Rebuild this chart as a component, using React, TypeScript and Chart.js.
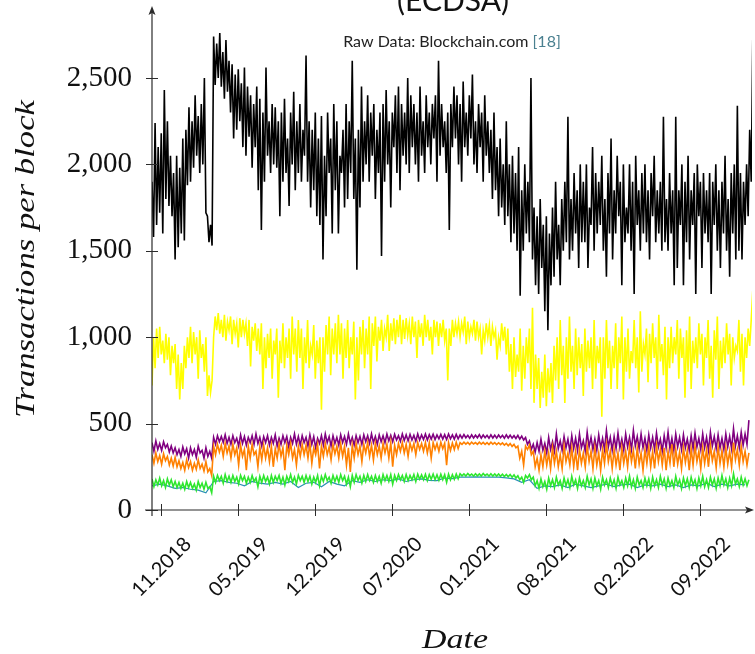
import React, { useEffect, useRef } from "react";
import { Chart, registerables } from "chart.js";

Chart.register(...registerables);

// Days relative to the first labelled tick (11.2018)
const seriesStartDay = -23;
const denseStepDays = 4;
const midStepDays = 5;
const tealStepDays = 20;

const xTickDays = [0, 200, 400, 600, 800, 1000, 1200, 1400];
const xTickLabels = ["11.2018", "05.2019", "12.2019", "07.2020", "01.2021", "08.2021", "02.2022", "09.2022"];
const yTickValues = [0, 500, 1000, 1500, 2000, 2500];

const blackValues = [
  1900, 1580, 2240, 1650, 2100, 1720, 2180, 1600, 2430, 1800, 2250, 1760, 2050, 1700, 1950, 1450, 2050, 1520, 1980, 1600,
  2150, 1560, 2200, 1880, 2330, 1900, 2250, 1980, 2400, 2050, 2280, 1950, 2350, 2000, 2500, 1720, 1700, 1550, 1650, 1530,
  2740, 2460, 2700, 2500, 2760, 2450, 2650, 2380, 2720, 2420, 2600, 2300, 2580, 2150, 2520, 2200, 2550, 2250, 2470, 2100,
  2560, 2050, 2450, 2160, 2400, 1980, 2350, 2100, 2450, 1850, 2380, 1620, 2300, 1900, 2560, 2050, 2250, 1950, 2350, 2000,
  2330, 1980, 2250, 1700, 2300, 1900, 2380, 1950, 2150, 1760, 2300, 2000, 2420, 1850, 2250, 1950, 2350, 1900, 2200, 2050,
  2630, 1900, 2250, 1750, 2200, 1850, 2300, 1700, 2150, 1650, 2280, 1450, 2050, 1700, 2300, 1950, 2150, 1600, 2350, 1850,
  2250, 1600, 2050, 1950, 2200, 1750, 2350, 1800, 2250, 1950, 2600, 1800, 2150, 1390, 2200, 1750, 2450, 1900, 2250, 2000,
  2400, 1900, 2300, 2050, 2350, 1800, 2200, 1950, 2300, 1470, 2350, 1900, 2430, 2000, 2250, 1750, 2300, 2100, 2400, 1950,
  2450, 1850, 2350, 2050, 2300, 2000, 2500, 1950, 2400, 2100, 2350, 2000, 2300, 1900, 2450, 2050, 2250, 1950, 2400, 2100,
  2300, 2000, 2350, 2150, 2400, 1900, 2600, 2050, 2350, 2100, 2250, 1950, 2300, 1620, 2350, 2100, 2450, 2150, 2400, 2000,
  2350, 1900, 2480, 2100, 2300, 2050, 2400, 2150, 2520, 2000, 2250, 1950, 2350, 2100, 2300, 1900, 2400, 2050, 2250, 1950,
  2200, 1800, 2300, 1850, 2100, 1700, 2150, 1750, 2000, 1650, 2250, 1700, 2000, 1550, 2050, 1600, 1950, 1500, 2100, 1240,
  1850, 1500, 2000, 1600, 1900, 1550, 2500, 1450, 1750, 1300, 1700, 1250, 1800, 1400, 1650, 1150, 1700, 1040, 1600, 1300,
  1750, 1350, 1900, 1450, 1650, 1300, 1800, 1500, 1900, 1550, 2275, 1450, 1800, 1500, 1950, 1600, 1850, 1400, 2000, 1550,
  1900, 1550, 2000, 1400, 1750, 1650, 2100, 1500, 1950, 1600, 1900, 1650, 2050, 1500, 1800, 1350, 1950, 1600, 2150, 1450,
  1850, 1600, 2050, 1700, 1900, 1300, 2000, 1550, 1750, 1600, 2000, 1500, 1900, 1250, 2050, 1650, 1850, 1500, 1950, 1600,
  2000, 1550, 1850, 1450, 1950, 1700, 2050, 1550, 1850, 1600, 1900, 1500, 2275, 1550, 1800, 1500, 1950, 1600, 1850, 1300,
  2275, 1400, 1850, 1650, 2000, 1300, 1900, 1550, 2050, 1450, 1850, 1650, 1950, 1250, 2000, 1700, 1900, 1400, 1950, 1600,
  1850, 1550, 1950, 1250, 1900, 1650, 2000, 1500, 1850, 1400, 1900, 1600, 2050, 1500, 1800, 1350, 1950, 1600, 2000, 1450,
  2340, 1500, 1950, 1450, 1900, 1650, 2000, 1700, 2200, 1900, 2720,
];

const yellowValues = [
  720, 1000, 820, 1050, 880, 1060, 900, 980, 850, 1020, 870, 1000, 780, 950, 850, 960, 700, 900, 640, 850,
  700, 950, 820, 1000, 880, 1060, 850, 1030, 900, 1000, 760, 1040, 880, 960, 800, 1000, 660, 780, 680, 750,
  1000, 1120, 1040, 1140, 1020, 1100, 1000, 1130, 980, 1090, 1040, 1120, 960, 1100, 1020, 1080, 940, 1110, 1000, 1100,
  1020, 1080, 950, 1100, 830, 1060, 980, 1080, 920, 1050, 900, 1080, 700, 1000, 820, 1020, 880, 1050, 760, 980,
  900, 1050, 650, 980, 850, 1080, 820, 1000, 880, 1050, 760, 1120, 900, 1050, 800, 1100, 880, 1050, 700, 1000,
  850, 1100, 820, 950, 900, 1070, 760, 980, 850, 1000, 580, 1000, 800, 1070, 900, 1120, 780, 1050, 900, 1080,
  850, 1130, 900, 1080, 760, 1050, 880, 1100, 820, 1000, 900, 1090, 640, 1000, 750, 1060, 900, 1100, 820, 1050,
  900, 1120, 700, 1080, 950, 1120, 860, 1060, 980, 1100, 920, 1050, 1000, 1130, 920, 1080, 980, 1110, 960, 1100,
  1000, 1130, 960, 1100, 990, 1110, 1010, 1080, 960, 1120, 1000, 1090, 880, 1100, 1000, 1080, 950, 1130, 1000, 1100,
  980, 1060, 900, 1100, 1000, 1090, 950, 1080, 1000, 1100, 980, 1050, 750, 1050, 950, 1100, 1000, 1080, 1020, 1090,
  1000, 1080, 1030, 1120, 960, 1090, 1000, 1060, 1020, 1100, 980, 1090, 1000, 1050, 900, 1040, 980, 1080, 1000, 1070,
  950, 1060, 1000, 1040, 870, 1000, 950, 1080, 980, 1060, 900, 1050, 800, 960, 700, 1000, 770, 900, 800, 1050,
  690, 950, 760, 1000, 850, 1050, 700, 1170, 620, 900, 700, 880, 590, 800, 650, 900, 600, 820, 680, 850,
  620, 950, 750, 1000, 700, 1100, 780, 950, 620, 1000, 760, 1120, 800, 950, 700, 1050, 780, 1000, 820, 960,
  660, 1050, 800, 980, 820, 1000, 700, 1100, 760, 950, 850, 1000, 540, 1000, 760, 1100, 820, 980, 700, 950,
  820, 1080, 700, 1000, 850, 1120, 640, 1000, 800, 1050, 760, 920, 850, 1100, 820, 1000, 680, 1150, 800, 960,
  900, 1050, 740, 1020, 850, 1080, 880, 1000, 700, 1130, 860, 960, 780, 1060, 640, 1000, 820, 1060, 850, 1000,
  900, 1100, 760, 1050, 880, 1000, 650, 1040, 800, 1120, 700, 980, 850, 1000, 820, 1080, 900, 1020, 720, 1000,
  880, 1100, 760, 950, 650, 1040, 870, 1120, 700, 980, 820, 1000, 850, 1080, 900, 1020, 720, 1000, 880, 950,
  920, 1100, 800, 1020, 720, 1000, 880, 1050, 950, 1100, 1270,
];

const purpleValues = [
  390, 340, 400, 350, 385, 345, 395, 360, 380, 335, 370, 330, 360, 320, 350, 310, 365, 325, 355, 300,
  360, 320, 350, 305, 370, 330, 345, 300, 360, 310, 340, 300, 420, 380, 430, 395, 425, 390, 435, 385,
  420, 380, 430, 390, 415, 370, 435, 385, 425, 375, 420, 390, 430, 380, 440, 385, 420, 370, 425, 390,
  430, 375, 420, 385, 435, 370, 415, 380, 430, 390, 425, 365, 420, 385, 440, 380, 425, 375, 430, 390,
  420, 370, 435, 380, 425, 360, 415, 385, 430, 375, 440, 390, 425, 370, 430, 385, 420, 375, 435, 390,
  425, 380, 440, 385, 420, 375, 430, 390, 425, 380, 435, 395, 430, 385, 440, 390, 425, 380, 435, 395,
  430, 390, 440, 400, 432, 395, 438, 405, 430, 398, 440, 402, 435, 400, 438, 405, 432, 398, 440, 405,
  435, 408, 440, 405, 436, 410, 438, 408, 434, 412, 438, 410, 436, 408, 440, 412, 435, 410, 438, 412,
  434, 416, 436, 418, 432, 415, 435, 417, 433, 418, 436, 416, 434, 418, 432, 415, 435, 417, 433, 416,
  434, 418, 432, 415, 435, 417, 433, 416, 430, 414, 432, 410, 428, 405, 420, 380, 400, 350, 380, 335,
  390, 340, 410, 345, 385, 330, 420, 350, 395, 340, 440, 355, 400, 345, 425, 360, 410, 340, 430, 355,
  415, 345, 440, 360, 400, 340, 450, 365, 420, 350, 410, 345, 435, 360, 415, 350, 460, 365, 420, 345,
  425, 355, 445, 360, 410, 345, 440, 365, 420, 350, 460, 370, 425, 355, 440, 360, 415, 345, 435, 360,
  420, 350, 445, 365, 410, 340, 430, 360, 450, 355, 415, 345, 440, 365, 420, 350, 435, 360, 410, 345,
  430, 355, 445, 365, 415, 350, 440, 360, 420, 345, 450, 370, 425, 355, 435, 360, 415, 350, 440, 365,
  425, 355, 470, 370, 430, 360, 450, 375, 440, 380, 520,
];

const orangeValues = [
  320, 270, 330, 280, 315, 265, 325, 285, 310, 260, 300, 255, 305, 250, 285, 240, 275, 230, 290, 245,
  280, 230, 270, 235, 290, 240, 265, 225, 280, 220, 240, 200, 370, 320, 380, 335, 375, 310, 385, 330,
  370, 300, 380, 320, 360, 260, 375, 310, 350, 230, 370, 300, 380, 320, 340, 250, 365, 290, 375, 300,
  360, 280, 370, 250, 355, 300, 380, 310, 360, 230, 375, 320, 385, 300, 350, 260, 370, 310, 380, 320,
  375, 300, 385, 270, 360, 320, 380, 240, 370, 310, 385, 320, 365, 290, 380, 325, 370, 300, 385, 310,
  370, 260, 360, 220, 375, 300, 385, 320, 370, 280, 380, 330, 390, 310, 375, 290, 385, 320, 370, 300,
  385, 330, 380, 300, 390, 250, 375, 320, 385, 340, 390, 330, 380, 310, 388, 345, 385, 320, 390, 350,
  385, 340, 390, 330, 388, 300, 390, 350, 385, 340, 392, 355, 386, 260, 390, 345, 388, 350, 392, 355,
  390, 380, 392, 381, 391, 379, 393, 382, 390, 380, 392, 381, 391, 380, 390, 379, 392, 381, 390, 378,
  389, 378, 388, 376, 386, 372, 384, 368, 380, 360, 370, 300, 340, 260, 370, 350, 375, 320, 340, 250,
  300, 230, 320, 250, 340, 260, 330, 240, 360, 270, 340, 250, 320, 240, 370, 280, 330, 260, 360, 250,
  340, 230, 350, 270, 330, 250, 370, 280, 340, 240, 360, 260, 330, 230, 350, 270, 380, 280, 340, 240,
  350, 260, 330, 230, 360, 270, 340, 250, 370, 280, 345, 240, 360, 265, 330, 230, 350, 270, 365, 250,
  340, 240, 370, 280, 350, 260, 360, 230, 340, 270, 380, 250, 350, 265, 335, 240, 360, 275, 345, 230,
  355, 260, 370, 280, 340, 240, 360, 270, 350, 250, 375, 285, 340, 245, 365, 270, 345, 250, 360, 265,
  340, 250, 390, 290, 350, 260, 370, 280, 340, 260, 330,
];

const greenValues = [
  180, 135, 175, 145, 185, 140, 170, 130, 180, 145, 175, 135, 165, 130, 160, 125, 155, 120, 165, 130,
  160, 125, 150, 115, 165, 130, 155, 120, 160, 125, 135, 100, 195, 160, 200, 170, 195, 155, 205, 165,
  195, 160, 200, 165, 190, 150, 200, 170, 195, 155, 190, 160, 200, 165, 185, 135, 195, 160, 200, 165,
  190, 150, 200, 160, 195, 170, 200, 155, 190, 145, 195, 165, 205, 160, 190, 150, 200, 170, 195, 160,
  200, 165, 195, 150, 190, 160, 200, 140, 195, 165, 205, 170, 190, 155, 200, 165, 195, 160, 205, 170,
  195, 150, 190, 135, 200, 160, 205, 170, 195, 155, 200, 165, 205, 170, 195, 160, 200, 165, 195, 155,
  205, 170, 200, 165, 205, 150, 200, 170, 205, 175, 200, 165, 205, 170, 200, 175, 205, 165, 208, 178,
  203, 175, 207, 170, 205, 178, 208, 175, 204, 172, 207, 176, 205, 160, 208, 175, 205, 178, 208, 180,
  210, 198, 209, 197, 211, 199, 208, 196, 210, 198, 209, 197, 211, 199, 208, 196, 210, 197, 209, 196,
  208, 195, 207, 194, 206, 192, 205, 190, 203, 185, 198, 175, 190, 160, 200, 185, 205, 175, 190, 140,
  170, 125, 180, 135, 165, 120, 185, 140, 175, 130, 190, 145, 170, 125, 185, 140, 175, 130, 195, 145,
  175, 125, 185, 140, 170, 130, 195, 145, 180, 125, 185, 140, 170, 120, 190, 145, 175, 130, 185, 140,
  175, 125, 190, 145, 170, 130, 185, 140, 195, 135, 175, 125, 190, 145, 170, 130, 185, 140, 180, 125,
  190, 140, 175, 130, 195, 145, 180, 125, 185, 140, 170, 130, 195, 145, 175, 125, 185, 140, 180, 130,
  190, 145, 175, 125, 185, 140, 195, 135, 175, 130, 190, 145, 180, 125, 185, 140, 200, 145, 180, 130,
  185, 140, 210, 150, 180, 135, 190, 145, 180, 140, 175,
];

const tealValues = [
  140, 150, 140, 125, 130, 120, 115, 100, 165, 170,
  160, 155, 140, 165, 155, 150, 160, 150, 165, 130,
  155, 160, 135, 165, 150, 140, 170, 160, 175, 165,
  175, 170, 180, 165, 175, 180, 172, 170, 185, 182,
  190, 190, 192, 190, 191, 190, 186, 180, 160, 175,
  125, 140, 135, 145, 130, 150, 140, 130, 140, 150,
  135, 145, 150, 130, 145, 140, 150, 135, 145, 130,
  145, 140, 155, 135, 150, 140, 150, 145,
];

function toPoints(values: number[], step: number) {
  return values.map((v, i) => ({ x: seriesStartDay + i * step, y: v }));
}

const decorPlugin = {
  id: "decor",
  afterDraw(chart: any) {
    const ctx: CanvasRenderingContext2D = chart.ctx;
    const xs = chart.scales.x;
    const ys = chart.scales.y;
    const { left, right, top, bottom } = chart.chartArea;
    ctx.save();
    ctx.strokeStyle = "#2b2b2b";
    ctx.fillStyle = "#2b2b2b";
    ctx.lineWidth = 1.2;

    // y axis line + arrow
    ctx.beginPath();
    ctx.moveTo(left, bottom + 6);
    ctx.lineTo(left, top + 1);
    ctx.stroke();
    ctx.beginPath();
    ctx.moveTo(left, top - 2);
    ctx.lineTo(left - 3.5, top + 7);
    ctx.lineTo(left, top + 5);
    ctx.lineTo(left + 3.5, top + 7);
    ctx.closePath();
    ctx.fill();

    // x axis line + arrow
    ctx.beginPath();
    ctx.moveTo(left - 7, bottom);
    ctx.lineTo(right - 1, bottom);
    ctx.stroke();
    ctx.beginPath();
    ctx.moveTo(right + 2, bottom);
    ctx.lineTo(right - 7, bottom - 3.5);
    ctx.lineTo(right - 5, bottom);
    ctx.lineTo(right - 7, bottom + 3.5);
    ctx.closePath();
    ctx.fill();

    // y ticks
    ctx.lineWidth = 1;
    for (const t of ys.ticks) {
      const y = Math.round(ys.getPixelForValue(t.value)) + 0.5;
      ctx.beginPath();
      ctx.moveTo(left - 6, y);
      ctx.lineTo(left + 6, y);
      ctx.stroke();
    }
    // x ticks + labels
    ctx.font = "20px Lato";
    ctx.fillStyle = "#111";
    ctx.textAlign = "center";
    ctx.textBaseline = "middle";
    xs.ticks.forEach((t: any, i: number) => {
      const x = Math.round(xs.getPixelForValue(t.value)) + 0.5;
      ctx.beginPath();
      ctx.moveTo(x, bottom - 6);
      ctx.lineTo(x, bottom + 6);
      ctx.stroke();
      ctx.save();
      ctx.translate(x, bottom + 57);
      ctx.rotate(-Math.PI / 4);
      ctx.fillText(xTickLabels[i], 0, 0);
      ctx.restore();
    });

    const mid = (left + right) / 2;
    // title (clipped at top)
    ctx.fillStyle = "#111";
    ctx.font = "30px Lato";
    ctx.textAlign = "center";
    ctx.textBaseline = "alphabetic";
    ctx.fillText("(ECDSA)", mid + 1, 11);

    // subtitle
    ctx.font = "16px Lato";
    const partA = "Raw Data: Blockchain.com ";
    const partB = "[18]";
    const wa = ctx.measureText(partA).width;
    const wb = ctx.measureText(partB).width;
    const sx = mid - (wa + wb) / 2;
    ctx.textAlign = "left";
    ctx.fillStyle = "#222";
    ctx.fillText(partA, sx, 47);
    ctx.fillStyle = "#4a8090";
    ctx.fillText(partB, sx + wa, 47);

    // y axis title
    ctx.fillStyle = "#111";
    ctx.font = "italic 28px 'Liberation Serif'";
    ctx.textAlign = "center";
    ctx.textBaseline = "middle";
    const ylab = "Transactions per block";
    const yw = ctx.measureText(ylab).width;
    ctx.save();
    ctx.translate(27, 259);
    ctx.rotate(-Math.PI / 2);
    ctx.scale(318 / yw, 1);
    ctx.fillText(ylab, 0, 0);
    ctx.restore();

    // x axis title
    const xlab = "Date";
    const xw = ctx.measureText(xlab).width;
    ctx.save();
    ctx.translate(455, 641);
    ctx.scale(66 / xw, 1);
    ctx.fillText(xlab, 0, 0);
    ctx.restore();

    ctx.restore();
  },
};

export default function App() {
  const canvasRef = useRef<HTMLCanvasElement | null>(null);

  useEffect(() => {
    if (!canvasRef.current) return;
    const chart = new Chart(canvasRef.current, {
      type: "line",
      data: {
        datasets: [
          { label: "black", data: toPoints(blackValues, denseStepDays), borderColor: "#000000", borderWidth: 1.6, order: 1 },
          { label: "yellow", data: toPoints(yellowValues, denseStepDays), borderColor: "#ffff00", borderWidth: 1.6, order: 2 },
          { label: "green", data: toPoints(greenValues, midStepDays), borderColor: "#2ee62e", borderWidth: 1.6, order: 3 },
          { label: "teal", data: toPoints(tealValues, tealStepDays), borderColor: "#2a8fb5", borderWidth: 1.2, order: 4 },
          { label: "orange", data: toPoints(orangeValues, midStepDays), borderColor: "#ff8000", borderWidth: 1.6, order: 5 },
          { label: "purple", data: toPoints(purpleValues, midStepDays), borderColor: "#800080", borderWidth: 1.6, order: 6 },
        ],
      },
      options: {
        responsive: false,
        devicePixelRatio: 1,
        animation: false,
        layout: { padding: { top: 8, right: 3, left: 0, bottom: 0 } },
        elements: {
          point: { radius: 0 },
          line: { tension: 0, fill: false },
        },
        plugins: {
          legend: { display: false },
          tooltip: { enabled: false },
          title: { display: false },
        },
        scales: {
          x: {
            type: "linear",
            min: -23,
            max: 1535,
            grid: { display: false, drawTicks: false },
            border: { display: false },
            ticks: { display: false, includeBounds: false },
            afterBuildTicks: (scale: any) => {
              scale.ticks = xTickDays.map((v) => ({ value: v }));
            },
            afterFit: (scale: any) => {
              scale.height = 144;
              scale.paddingLeft = 0;
              scale.paddingRight = 0;
            },
          },
          y: {
            type: "linear",
            min: 0,
            max: 2905,
            grid: { display: false, drawTicks: false },
            border: { display: false },
            ticks: {
              includeBounds: false,
              padding: 20,
              color: "#111",
              font: { family: "'Liberation Serif'", size: 29 },
              callback: (v: any) => Number(v).toLocaleString("en-US"),
            },
            afterBuildTicks: (scale: any) => {
              scale.ticks = yTickValues.map((v) => ({ value: v }));
            },
            afterFit: (scale: any) => {
              scale.width = 152;
              scale.paddingTop = 0;
              scale.paddingBottom = 0;
            },
          },
        },
      },
      plugins: [decorPlugin],
    });
    return () => chart.destroy();
  }, []);

  return (
    <div style={{ position: "absolute", left: 0, top: 0, width: 755, height: 654 }}>
      <canvas ref={canvasRef} width={755} height={654} style={{ display: "block" }} />
    </div>
  );
}
